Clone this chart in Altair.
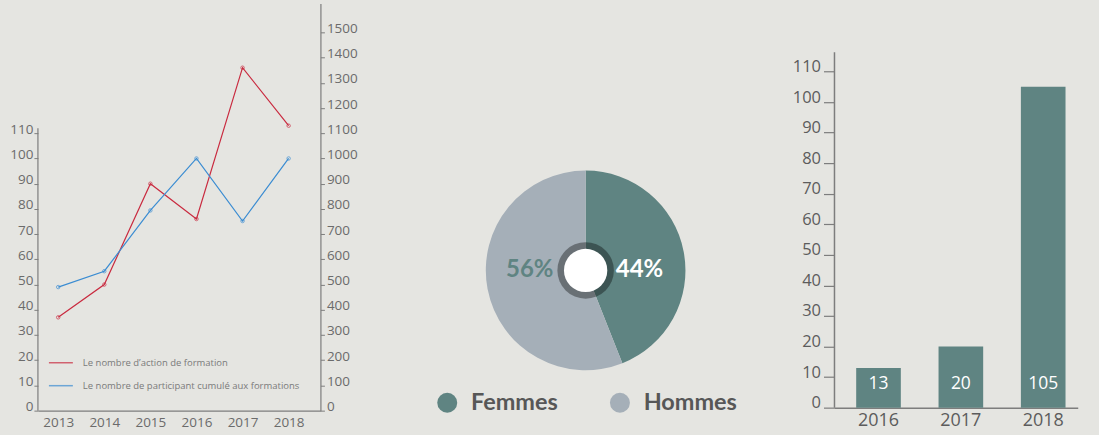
import altair as alt
import pandas as pd

# ---------------- data ----------------
years = [2013, 2014, 2015, 2016, 2017, 2018]
actions = [37, 50, 90, 76, 136, 113]
participants = [490, 553, 794, 1000, 752, 1000]
series_names = ["Le nombre d’action de formation",
                "Le nombre de participant cumulé aux formations"]
left_ticks = list(range(0, 111, 10))
right_ticks = list(range(0, 1501, 100))

pie_cats = ["Femmes", "Hommes"]
pie_vals = [44, 56]
pie_labels = ["44%", "56%"]

bar_years = ["2016", "2017", "2018"]
bar_vals = [13, 20, 105]
bar_ticks = list(range(0, 111, 10))

# ---------------- styles ----------------
BG = "#e5e5e1"
RED = "#c92a3f"
BLUE = "#3a8cd2"
TEAL = "#5f8482"
GREY = "#a5afb8"
AXIS = "#7d7d7d"
LAB = "#6b6b6b"
FONT = "Open Sans"

one = pd.DataFrame({"k": [0]})

# ---------------- chart 1: lines ----------------
df_a = pd.DataFrame({"year": years, "value": actions, "series": series_names[0]})
df_p = pd.DataFrame({"year": years, "value": participants, "series": series_names[1]})

x_enc = alt.X("year:Q",
              scale=alt.Scale(domain=[2012.56, 2018.69], nice=False, zero=False),
              axis=alt.Axis(values=years, format="d", ticks=False, grid=False, title=None,
                            labelFontSize=13.5, labelColor=LAB, labelFont=FONT,
                            labelPadding=5, domainColor=AXIS, domainWidth=1.2,
                            labelOverlap=False))

color_enc = alt.Color("series:N",
                      scale=alt.Scale(domain=series_names, range=[RED, BLUE]),
                      legend=alt.Legend(title=None, orient="none", direction="vertical",
                                        legendX=10, legendY=347, symbolType="stroke",
                                        symbolSize=576, symbolStrokeWidth=1.5,
                                        labelFontSize=9.5, labelColor="#7a7a7a",
                                        labelFont=FONT, labelOffset=9, rowPadding=5,
                                        labelLimit=400, padding=0))

left_scale = alt.Scale(domain=[0, 161.5], nice=False)
left_axis = alt.Axis(values=left_ticks, format="d", domain=False, tickSize=4,
                     labelPadding=1, labelBaseline="alphabetic", grid=False,
                     title=None, labelFontSize=13.5, labelColor=LAB,
                     labelFont=FONT, tickColor=AXIS, orient="left",
                     labelOverlap=False)
y_left = alt.Y("value:Q", scale=left_scale, axis=left_axis)

y_right = alt.Y("value:Q",
                scale=alt.Scale(domain=[0, 1615], nice=False),
                axis=alt.Axis(values=right_ticks, format="d", domain=True, tickSize=4,
                              labelPadding=2, labelBaseline="alphabetic", grid=False,
                              title=None, labelFontSize=13.5, labelColor=LAB,
                              labelFont=FONT, tickColor=AXIS, domainColor=AXIS,
                              domainWidth=1.2, orient="right", labelOverlap=False))

left_rule = alt.Chart(one).mark_rule(color=AXIS, strokeWidth=1.2).encode(
    x=alt.value(0), y=alt.YDatum(0, scale=left_scale, axis=left_axis), y2=alt.datum(112))
red_line = alt.Chart(df_a).mark_line(strokeWidth=1.2).encode(x=x_enc, y=y_left, color=color_enc)
red_pts = alt.Chart(df_a).mark_point(shape="circle", filled=False, size=12, strokeWidth=1).encode(
    x=x_enc, y=y_left, color=color_enc)
blue_line = alt.Chart(df_p).mark_line(strokeWidth=1.2).encode(x=x_enc, y=y_right, color=color_enc)
blue_pts = alt.Chart(df_p).mark_point(shape="circle", filled=False, size=12, strokeWidth=1).encode(
    x=x_enc, y=y_right, color=color_enc)

c1 = alt.layer(
    alt.layer(left_rule, red_line, red_pts),
    alt.layer(blue_line, blue_pts),
).resolve_scale(y="independent").properties(width=283, height=408)

# ---------------- chart 2: pie ----------------
df_pie = pd.DataFrame({"cat": pie_cats, "value": pie_vals, "label": pie_labels, "order": [0, 1]})
CX, CY = 255.7, 267.5

arcs = alt.Chart(df_pie).mark_arc(radius=100).encode(
    theta=alt.Theta("value:Q", stack=True),
    order=alt.Order("order:Q"),
    color=alt.Color("cat:N", scale=alt.Scale(domain=pie_cats, range=[TEAL, GREY]),
                    legend=alt.Legend(title=None, orient="none", direction="horizontal",
                                      legendX=105.3, legendY=388, symbolType="circle",
                                      symbolSize=400, symbolStrokeWidth=0,
                                      labelFont="Lato", labelFontSize=23.5,
                                      labelFontWeight="bold", labelColor="#575757",
                                      labelOffset=12, columnPadding=50, padding=0)),
    x=alt.value(CX), y=alt.value(CY))

ring = alt.Chart(one).mark_arc(radius=28.3, theta=0, theta2=6.2832, color="black",
                               opacity=0.36).encode(x=alt.value(CX), y=alt.value(CY))
hole = alt.Chart(one).mark_arc(radius=21.7, theta=0, theta2=6.2832, color="white").encode(
    x=alt.value(CX), y=alt.value(CY))

pie_text = alt.Chart(df_pie).mark_text(font="Lato", fontSize=24, fontWeight="bold",
                                       baseline="middle", align="center").encode(
    text="label:N",
    x=alt.X("cat:N", scale=alt.Scale(type="point", domain=["Hommes", "Femmes"],
                                     range=[CX - 56, CX + 54], padding=0), axis=None),
    y=alt.value(CY),
    color=alt.Color("cat:N", scale=alt.Scale(domain=pie_cats, range=["#ffffff", TEAL]),
                    legend=None))

c2 = alt.layer(arcs, ring, hole, pie_text).resolve_scale(color="independent").properties(
    width=494.3, height=408)

# ---------------- chart 3: bars ----------------
df_bar = pd.DataFrame({"year": bar_years, "value": bar_vals})

bx = alt.X("year:N",
           scale=alt.Scale(paddingInner=0.458, paddingOuter=0.206, align=0.64),
           axis=alt.Axis(ticks=False, grid=False, title=None, labelAngle=0,
                         labelFontSize=18, labelColor="#5c5c5c", labelFont=FONT,
                         labelPadding=4, domainColor=AXIS, domainWidth=1.5))
bar_scale = alt.Scale(domain=[0, 132.3], nice=False)
bar_axis = alt.Axis(values=bar_ticks, format="d", domain=False, tickSize=11,
                    labelPadding=3, labelBaseline="alphabetic", grid=False,
                    title=None, labelFontSize=16.5, labelColor="#5c5c5c",
                    labelFont=FONT, tickColor=AXIS, tickWidth=1.2,
                    labelOverlap=False)
by = alt.Y("value:Q", scale=bar_scale, axis=bar_axis)

bar_rule = alt.Chart(one).mark_rule(color=AXIS, strokeWidth=1.5).encode(
    x=alt.value(0), y=alt.YDatum(0, scale=bar_scale, axis=bar_axis), y2=alt.datum(116.3))
bars = alt.Chart(df_bar).mark_bar(color=TEAL).encode(x=bx, y=by)
bar_text = alt.Chart(df_bar).mark_text(color="white", fontSize=17.5, font=FONT,
                                       baseline="middle").encode(
    x=bx, y=alt.YDatum(7.7, scale=bar_scale, axis=bar_axis), text="value:Q")

c3 = alt.layer(bar_rule, bars, bar_text).properties(width=243.7, height=405)

chart = alt.hconcat(c1, c2, c3, spacing=10, bounds="flush").properties(
    padding={"left": 9, "top": 3, "right": 21, "bottom": 5},
    background=BG,
).configure_view(strokeWidth=0)

chart.save("out.html", embed_options={"renderer": "svg", "actions": False})
